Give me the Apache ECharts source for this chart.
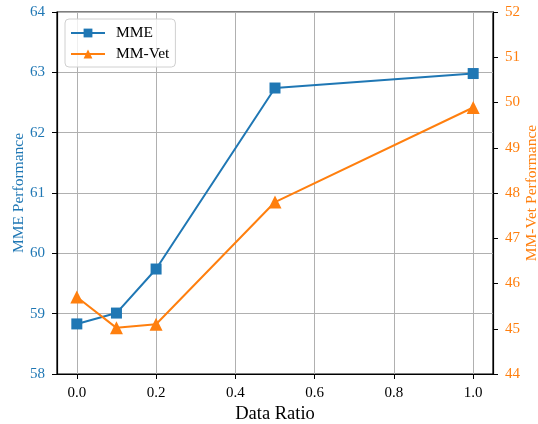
<!DOCTYPE html>
<html>
<head>
<meta charset="utf-8">
<script src="https://cdn.jsdelivr.net/npm/echarts@6/dist/echarts.min.js"></script>
<style>
  html, body { margin: 0; padding: 0; background: #fff; }
  #chart { width: 538px; height: 424px; }
</style>
</head>
<body>
<div id="chart"></div>
<script>
// 数据
const dataRatio = [0.0, 0.1, 0.2, 0.5, 1.0]
const mmeScores = [58.83, 59.01, 59.74, 62.74, 62.98]
const mmVetScores = [45.7, 45.02, 45.1, 47.8, 49.89]
const xTicks = [0.0, 0.2, 0.4, 0.6, 0.8, 1.0]

const BLUE = '#1f77b4'
const ORANGE = '#ff7f0e'
const FONT = 'Liberation Serif'

const chart = echarts.init(document.getElementById('chart'), null, { renderer: 'canvas' })

const option = {
  backgroundColor: '#fff',
  animation: false,
  textStyle: { fontFamily: FONT },
  grid: {
    left: 57,
    right: 45,
    top: 12,
    bottom: 50,
    outerBoundsMode: 'none',
    show: true,
    borderColor: '#000',
    borderWidth: 1.2
  },
  legend: {
    left: 65,
    top: 19,
    orient: 'vertical',
    itemWidth: 34,
    itemHeight: 11,
    itemGap: 5,
    padding: [6, 6, 5, 5],
    borderColor: '#d0d0d0',
    borderWidth: 1,
    borderRadius: 4,
    backgroundColor: 'rgba(255,255,255,0.8)',
    textStyle: { fontFamily: FONT, fontSize: 15.5, color: '#000', padding: [0, 0, 0, 6] },
    data: ['MME', 'MM-Vet']
  },
  xAxis: {
    type: 'value',
    min: -0.05,
    max: 1.05,
    name: 'Data Ratio',
    nameLocation: 'middle',
    nameGap: 31,
    nameMoveOverlap: false,
    nameTextStyle: { fontFamily: FONT, fontSize: 18.5, color: '#000' },
    axisLine: { show: true, onZero: false, lineStyle: { color: '#000', width: 1.2 } },
    axisTick: { show: true, length: 5, customValues: xTicks, lineStyle: { color: '#000' } },
    axisLabel: {
      customValues: xTicks,
      color: '#000',
      fontFamily: FONT,
      fontSize: 15,
      margin: 12,
      formatter: v => v.toFixed(1)
    },
    splitLine: { show: true, lineStyle: { color: '#b0b0b0', width: 1 } }
  },
  yAxis: [
    {
      type: 'value',
      min: 58,
      max: 64,
      interval: 1,
      name: 'MME Performance',
      nameLocation: 'middle',
      nameGap: 30.5,
      nameMoveOverlap: false,
      nameTextStyle: { fontFamily: FONT, fontSize: 15.5, color: BLUE },
      axisLine: { show: true, onZero: false, lineStyle: { color: '#000', width: 1.2 } },
      axisTick: { show: true, length: 5, lineStyle: { color: '#000' } },
      axisLabel: { color: BLUE, fontFamily: FONT, fontSize: 15, margin: 12 },
      splitLine: { show: true, lineStyle: { color: '#b0b0b0', width: 1 } }
    },
    {
      type: 'value',
      min: 44,
      max: 52,
      interval: 1,
      position: 'right',
      name: 'MM-Vet Performance',
      nameLocation: 'middle',
      nameGap: 31,
      nameRotate: 90,
      nameMoveOverlap: false,
      nameTextStyle: { fontFamily: FONT, fontSize: 15.5, color: ORANGE },
      axisLine: { show: true, onZero: false, lineStyle: { color: '#000', width: 1.2 } },
      axisTick: { show: true, length: 5, lineStyle: { color: '#000' } },
      axisLabel: { color: ORANGE, fontFamily: FONT, fontSize: 15, margin: 12 },
      splitLine: { show: false }
    }
  ],
  series: [
    {
      name: 'MME',
      type: 'line',
      yAxisIndex: 0,
      data: dataRatio.map((x, i) => [x, mmeScores[i]]),
      symbol: 'rect',
      symbolSize: 11,
      color: BLUE,
      lineStyle: { width: 2, color: BLUE },
      itemStyle: { color: BLUE }
    },
    {
      name: 'MM-Vet',
      type: 'line',
      yAxisIndex: 1,
      data: dataRatio.map((x, i) => [x, mmVetScores[i]]),
      symbol: 'triangle',
      symbolSize: 13,
      color: ORANGE,
      lineStyle: { width: 2, color: ORANGE },
      itemStyle: { color: ORANGE }
    }
  ]
}

chart.setOption(option)
</script>
</body>
</html>
